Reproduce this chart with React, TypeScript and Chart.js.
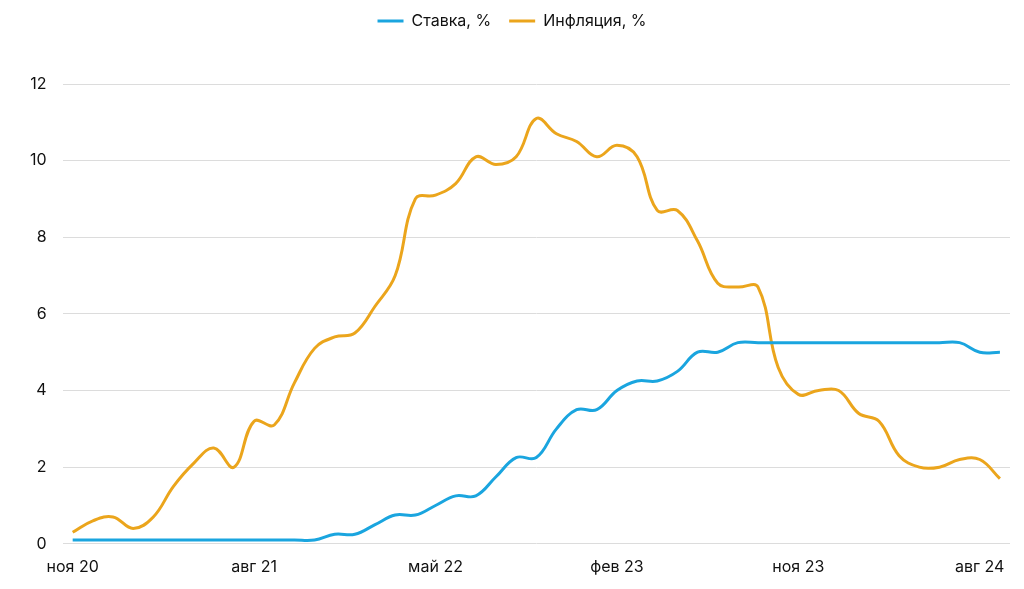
import React, { useEffect, useRef } from "react";
import { Chart, registerables } from "chart.js";

Chart.register(...registerables);

const categories: string[] = [
  "ноя 20", "дек 20",
  "янв 21", "фев 21", "мар 21", "апр 21", "май 21", "июн 21", "июл 21", "авг 21", "сен 21", "окт 21", "ноя 21", "дек 21",
  "янв 22", "фев 22", "мар 22", "апр 22", "май 22", "июн 22", "июл 22", "авг 22", "сен 22", "окт 22", "ноя 22", "дек 22",
  "янв 23", "фев 23", "мар 23", "апр 23", "май 23", "июн 23", "июл 23", "авг 23", "сен 23", "окт 23", "ноя 23", "дек 23",
  "янв 24", "фев 24", "мар 24", "апр 24", "май 24", "июн 24", "июл 24", "авг 24", "сен 24",
];

const shownTicks: string[] = ["ноя 20", "авг 21", "май 22", "фев 23", "ноя 23", "авг 24"];

const rateValues: number[] = [
  0.1, 0.1,
  0.1, 0.1, 0.1, 0.1, 0.1, 0.1, 0.1, 0.1, 0.1, 0.1, 0.1, 0.25,
  0.25, 0.5, 0.75, 0.75, 1.0, 1.25, 1.25, 1.75, 2.25, 2.25, 3.0, 3.5,
  3.5, 4.0, 4.25, 4.25, 4.5, 5.0, 5.0, 5.25, 5.25, 5.25, 5.25, 5.25,
  5.25, 5.25, 5.25, 5.25, 5.25, 5.25, 5.25, 5.0, 5.0,
];

const inflationValues: number[] = [
  0.3, 0.6,
  0.7, 0.4, 0.7, 1.5, 2.1, 2.5, 2.0, 3.2, 3.1, 4.2, 5.1, 5.4,
  5.5, 6.2, 7.0, 9.0, 9.1, 9.4, 10.1, 9.9, 10.1, 11.1, 10.7, 10.5,
  10.1, 10.4, 10.1, 8.7, 8.7, 7.9, 6.8, 6.7, 6.7, 4.6, 3.9, 4.0,
  4.0, 3.4, 3.2, 2.3, 2.0, 2.0, 2.2, 2.2, 1.7,
];

const yTicks: number[] = [0, 2, 4, 6, 8, 10, 12];

const BLUE = "#1aa5df";
const ORANGE = "#eba51c";
const FONT = "Inter, 'Noto Sans', sans-serif";

const legendSpacer = {
  id: "legendSpacer",
  beforeInit(chart: any) {
    const legend = chart.legend;
    if (!legend) return;
    const origFit = legend.fit;
    legend.fit = function () {
      origFit.call(this);
      this.height += 45;
    };
  },
};

export default function App() {
  const canvasRef = useRef<HTMLCanvasElement | null>(null);

  useEffect(() => {
    document.body.style.margin = "0";
    const canvas = canvasRef.current;
    if (!canvas) return;
    const chart = new Chart(canvas, {
      type: "line",
      data: {
        labels: categories,
        datasets: [
          {
            label: "Ставка, %",
            data: rateValues,
            borderColor: BLUE,
            backgroundColor: BLUE,
            borderWidth: 3,
            pointRadius: 0,
            pointHoverRadius: 0,
            tension: 0.4,
            fill: false,
          },
          {
            label: "Инфляция, %",
            data: inflationValues,
            borderColor: ORANGE,
            backgroundColor: ORANGE,
            borderWidth: 3,
            pointRadius: 0,
            pointHoverRadius: 0,
            tension: 0.4,
            fill: false,
          },
        ],
      },
      plugins: [legendSpacer],
      options: {
        responsive: false,
        animation: false,
        maintainAspectRatio: false,
        layout: { padding: { left: 14, right: 14, top: -5, bottom: 6 } },
        plugins: {
          tooltip: { enabled: false },
          legend: {
            position: "top",
            align: "center",
            labels: {
              usePointStyle: true,
              pointStyle: "line",
              pointStyleWidth: 26,
              boxHeight: 16,
              color: "#111",
              font: { family: FONT, size: 16 },
              padding: 18,
            },
          },
        },
        scales: {
          x: {
            offset: true,
            grid: { display: false },
            border: { display: false },
            ticks: {
              autoSkip: false,
              maxRotation: 0,
              minRotation: 0,
              color: "#111",
              font: { family: FONT, size: 16 },
              padding: 6,
              callback: function (_v: any, i: number) {
                const lab = categories[i];
                return shownTicks.includes(lab) ? lab : "";
              },
            },
          },
          y: {
            min: 0,
            max: 12,
            grid: { color: "#dcdcdc", lineWidth: 1, drawTicks: false },
            border: { display: false },
            afterBuildTicks: (axis: any) => {
              axis.ticks = yTicks.map((v) => ({ value: v }));
            },
            ticks: {
              color: "#111",
              font: { family: FONT, size: 16 },
              padding: 16,
            },
          },
        },
      },
    } as any);
    return () => chart.destroy();
  }, []);

  return (
    <div style={{ width: 1024, height: 589 }}>
      <canvas ref={canvasRef} width={1024} height={589} style={{ display: "block" }} />
    </div>
  );
}
